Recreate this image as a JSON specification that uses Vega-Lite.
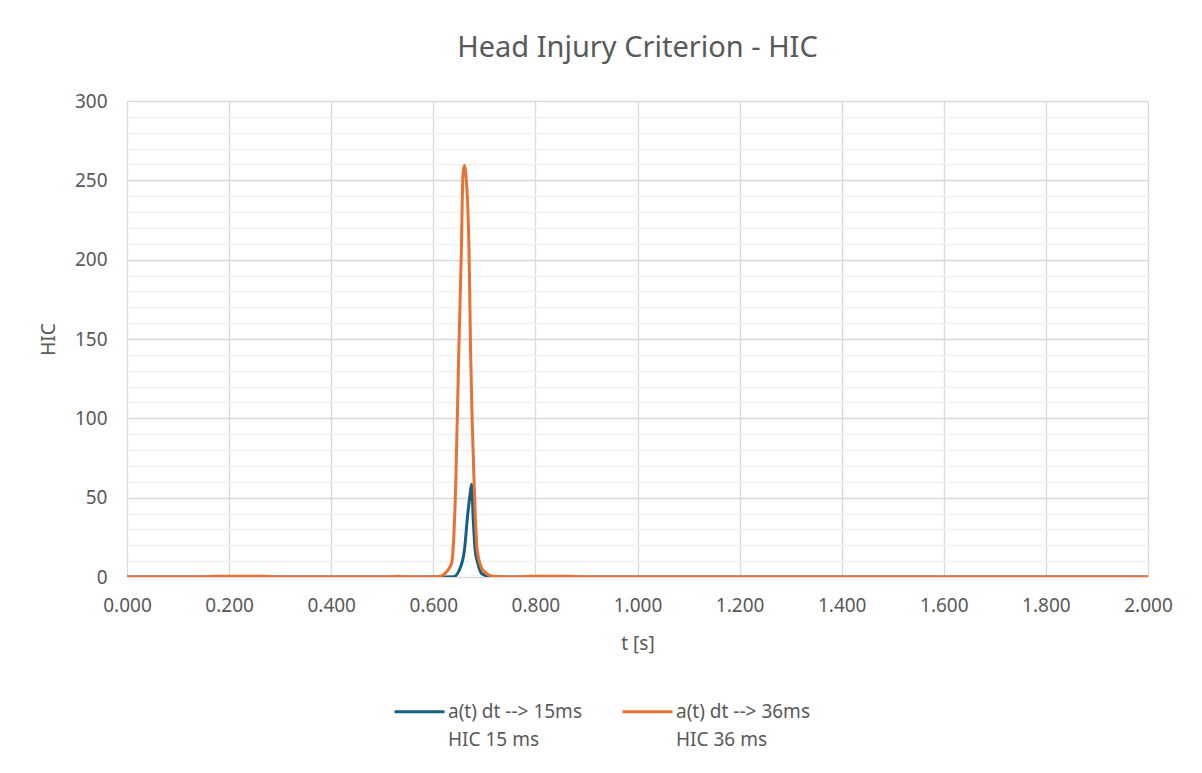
{
  "$schema": "https://vega.github.io/schema/vega-lite/v6.json",
  "width": 1021,
  "height": 476,
  "autosize": {"type": "none"},
  "padding": {"left": 127, "top": 101, "right": 54, "bottom": 196},
  "background": "white",
  "title": {
    "text": "Head Injury Criterion - HIC",
    "anchor": "middle",
    "fontSize": 29,
    "font": "Noto Sans",
    "fontWeight": "normal",
    "color": "#595959",
    "offset": 29
  },
  "config": {
    "font": "Noto Sans",
    "view": {"stroke": null},
    "axis": {
      "labelColor": "#595959",
      "titleColor": "#595959",
      "labelFontSize": 19,
      "titleFontSize": 19,
      "titleFontWeight": "normal",
      "ticks": false,
      "domain": false
    }
  },
  "data": {
    "values": [
      {"t": 0.000, "s": "a(t) dt --> 15ms\nHIC 15 ms", "v": 0},
      {"t": 0.150, "s": "a(t) dt --> 15ms\nHIC 15 ms", "v": 0},
      {"t": 0.200, "s": "a(t) dt --> 15ms\nHIC 15 ms", "v": 0.2},
      {"t": 0.280, "s": "a(t) dt --> 15ms\nHIC 15 ms", "v": 0},
      {"t": 0.600, "s": "a(t) dt --> 15ms\nHIC 15 ms", "v": 0},
      {"t": 0.640, "s": "a(t) dt --> 15ms\nHIC 15 ms", "v": 0.2},
      {"t": 0.651, "s": "a(t) dt --> 15ms\nHIC 15 ms", "v": 4.4},
      {"t": 0.661, "s": "a(t) dt --> 15ms\nHIC 15 ms", "v": 17},
      {"t": 0.667, "s": "a(t) dt --> 15ms\nHIC 15 ms", "v": 38},
      {"t": 0.672, "s": "a(t) dt --> 15ms\nHIC 15 ms", "v": 52},
      {"t": 0.675, "s": "a(t) dt --> 15ms\nHIC 15 ms", "v": 58.5},
      {"t": 0.678, "s": "a(t) dt --> 15ms\nHIC 15 ms", "v": 38},
      {"t": 0.682, "s": "a(t) dt --> 15ms\nHIC 15 ms", "v": 17},
      {"t": 0.688, "s": "a(t) dt --> 15ms\nHIC 15 ms", "v": 7.6},
      {"t": 0.695, "s": "a(t) dt --> 15ms\nHIC 15 ms", "v": 2},
      {"t": 0.711, "s": "a(t) dt --> 15ms\nHIC 15 ms", "v": 0.3},
      {"t": 0.740, "s": "a(t) dt --> 15ms\nHIC 15 ms", "v": 0},
      {"t": 2.000, "s": "a(t) dt --> 15ms\nHIC 15 ms", "v": 0},
      {"t": 0.000, "s": "a(t) dt --> 36ms\nHIC 36 ms", "v": 0},
      {"t": 0.150, "s": "a(t) dt --> 36ms\nHIC 36 ms", "v": 0},
      {"t": 0.170, "s": "a(t) dt --> 36ms\nHIC 36 ms", "v": 0.5},
      {"t": 0.270, "s": "a(t) dt --> 36ms\nHIC 36 ms", "v": 0.5},
      {"t": 0.290, "s": "a(t) dt --> 36ms\nHIC 36 ms", "v": 0},
      {"t": 0.510, "s": "a(t) dt --> 36ms\nHIC 36 ms", "v": 0},
      {"t": 0.530, "s": "a(t) dt --> 36ms\nHIC 36 ms", "v": 0.4},
      {"t": 0.550, "s": "a(t) dt --> 36ms\nHIC 36 ms", "v": 0},
      {"t": 0.600, "s": "a(t) dt --> 36ms\nHIC 36 ms", "v": 0.1},
      {"t": 0.613, "s": "a(t) dt --> 36ms\nHIC 36 ms", "v": 0.4},
      {"t": 0.626, "s": "a(t) dt --> 36ms\nHIC 36 ms", "v": 3.3},
      {"t": 0.636, "s": "a(t) dt --> 36ms\nHIC 36 ms", "v": 8.8},
      {"t": 0.644, "s": "a(t) dt --> 36ms\nHIC 36 ms", "v": 59},
      {"t": 0.650, "s": "a(t) dt --> 36ms\nHIC 36 ms", "v": 143},
      {"t": 0.655, "s": "a(t) dt --> 36ms\nHIC 36 ms", "v": 206},
      {"t": 0.658, "s": "a(t) dt --> 36ms\nHIC 36 ms", "v": 253},
      {"t": 0.661, "s": "a(t) dt --> 36ms\nHIC 36 ms", "v": 259.5},
      {"t": 0.664, "s": "a(t) dt --> 36ms\nHIC 36 ms", "v": 253},
      {"t": 0.670, "s": "a(t) dt --> 36ms\nHIC 36 ms", "v": 206},
      {"t": 0.673, "s": "a(t) dt --> 36ms\nHIC 36 ms", "v": 143},
      {"t": 0.680, "s": "a(t) dt --> 36ms\nHIC 36 ms", "v": 59},
      {"t": 0.686, "s": "a(t) dt --> 36ms\nHIC 36 ms", "v": 17},
      {"t": 0.697, "s": "a(t) dt --> 36ms\nHIC 36 ms", "v": 4.4},
      {"t": 0.717, "s": "a(t) dt --> 36ms\nHIC 36 ms", "v": 0.5},
      {"t": 0.760, "s": "a(t) dt --> 36ms\nHIC 36 ms", "v": 0},
      {"t": 0.790, "s": "a(t) dt --> 36ms\nHIC 36 ms", "v": 0.4},
      {"t": 0.870, "s": "a(t) dt --> 36ms\nHIC 36 ms", "v": 0.4},
      {"t": 0.900, "s": "a(t) dt --> 36ms\nHIC 36 ms", "v": 0},
      {"t": 2.000, "s": "a(t) dt --> 36ms\nHIC 36 ms", "v": 0}
    ]
  },
  "mark": {"type": "line", "strokeWidth": 3, "interpolate": "monotone", "clip": true},
  "encoding": {
    "x": {
      "field": "t",
      "type": "quantitative",
      "scale": {"domain": [0, 2], "nice": false},
      "axis": {
        "title": "t [s]",
        "values": [0, 0.2, 0.4, 0.6, 0.8, 1.0, 1.2, 1.4, 1.6, 1.8, 2.0],
        "format": ".3f",
        "labelFlush": false,
        "labelPadding": 19,
        "titlePadding": 19,
        "gridColor": "#d9d9d9",
        "gridWidth": 1.3
      }
    },
    "y": {
      "field": "v",
      "type": "quantitative",
      "scale": {"domain": [0, 300], "nice": false},
      "axis": {
        "title": "HIC",
        "values": [0, 10, 20, 30, 40, 50, 60, 70, 80, 90, 100, 110, 120, 130, 140, 150, 160, 170, 180, 190, 200, 210, 220, 230, 240, 250, 260, 270, 280, 290, 300],
        "labelExpr": "datum.value % 50 === 0 ? datum.label : ''",
        "labelFlush": false,
        "labelPadding": 20,
        "titlePadding": 16,
        "gridColor": {"condition": {"test": "datum.value % 50 === 0", "value": "#d9d9d9"}, "value": "#f0f0f0"},
        "gridWidth": 1.3
      }
    },
    "color": {
      "field": "s",
      "type": "nominal",
      "scale": {"domain": ["a(t) dt --> 15ms\nHIC 15 ms", "a(t) dt --> 36ms\nHIC 36 ms"], "range": ["#156082", "#E97132"]},
      "legend": {
        "title": null,
        "orient": "none",
        "direction": "horizontal",
        "legendX": 266,
        "legendY": 584,
        "symbolType": "stroke",
        "symbolSize": 2500,
        "symbolStrokeWidth": 3,
        "labelExpr": "split(datum.label, '\\n')",
        "labelFontSize": 19,
        "labelColor": "#595959",
        "labelOffset": 2,
        "labelLimit": 300,
        "labelBaseline": "middle",
        "columnPadding": 34,
        "encode": {
          "labels": {
            "update": {
              "lineHeight": {"value": 28}
            }
          }
        }
      }
    }
  }
}
